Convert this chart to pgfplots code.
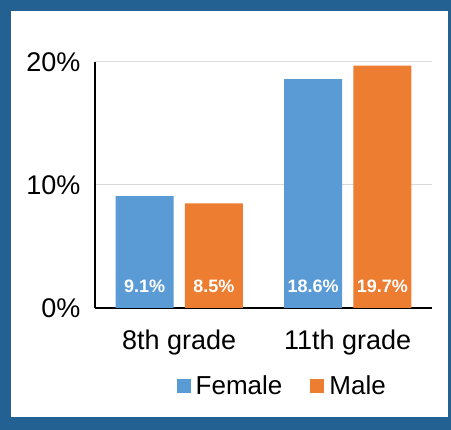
\documentclass[border=0pt]{standalone}
\usepackage{pgfplots}
\pgfplotsset{compat=1.18}
\usepackage{fontspec}
\setmainfont{Liberation Sans}
\definecolor{frameblue}{RGB}{36,97,147}
\definecolor{fem}{HTML}{5B9BD5}
\definecolor{mal}{HTML}{ED7D31}
\definecolor{gridc}{HTML}{D9D9D9}
\begin{document}
\begin{tikzpicture}
\fill[frameblue] (0pt,0pt) rectangle (451pt,430pt);
\fill[white] (11pt,13pt) rectangle (448pt,419pt);
\begin{axis}[
  at={(95pt,122pt)}, anchor=south west,
  scale only axis, width=337pt, height=246pt,
  xmin=-0.5, xmax=1.5, ymin=0, ymax=20,
  ybar, bar width=0.344,
  axis lines*=left,
  axis line style={black, line width=1.2pt},
  xtick={0,1}, xticklabels={8th grade, 11th grade},
  ytick={0,10,20},
  yticklabel={\pgfmathprintnumber{\tick}\%},
  /pgf/number format/assume math mode=true,
  major tick length=0pt,
  ymajorgrids, grid style={gridc, line width=1pt},
  tick label style={font=\fontsize{27}{32}\selectfont},
  yticklabel style={xshift=-11pt},
  xticklabel style={yshift=-18pt},
  visualization depends on={y \as \rawy},
  nodes near coords={\pgfmathprintnumber[fixed,fixed zerofill,precision=1]{\pgfplotspointmeta}\%},
  nodes near coords style={font=\bfseries\fontsize{18}{20}\selectfont, text=white, anchor=base, yshift={15pt-\rawy*12.3pt}},
  legend columns=2,
  legend style={draw=none, fill=none, at={(0.56,-0.317)}, anchor=center,
    font=\fontsize{26}{30}\selectfont,
    nodes={inner xsep=5pt},
    /tikz/every even column/.append style={column sep=23pt}},
  legend image code/.code={\fill[#1] (0pt,-7pt) rectangle (14pt,7pt);},
]
\addplot[fill=fem, draw=none, bar shift=-0.205] coordinates {(0,9.1) (1,18.6)};
\addlegendentry{Female}
\addplot[fill=mal, draw=none, bar shift=0.205] coordinates {(0,8.5) (1,19.7)};
\addlegendentry{Male}
\end{axis}
\end{tikzpicture}
\end{document}
